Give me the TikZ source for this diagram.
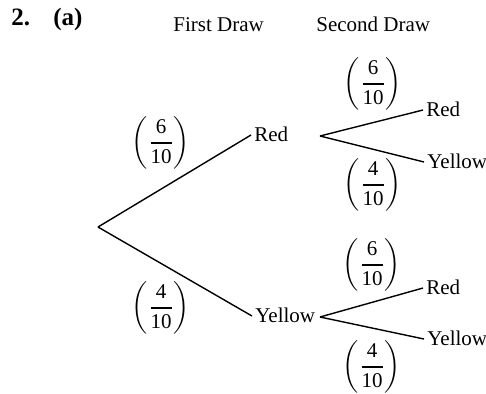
\documentclass[tikz,border=0pt]{standalone}
\usepackage{amsmath}
\usepackage{fontspec}
\setmainfont{Liberation Serif}
\newcommand{\pfrac}[2]{$\left(\genfrac{}{}{0.9pt}{0}{\text{#1}}{\text{#2}}\right)$}
\begin{document}
\begin{tikzpicture}[x=0.5pt,y=-0.5pt,
  body/.style={inner sep=0pt, font=\fontsize{10.5}{12}\selectfont},
  head/.style={inner sep=0pt, anchor=base west, font=\fontsize{12.5}{14}\selectfont\bfseries},
  title/.style={body, anchor=base west},
  leaf/.style={body, anchor=west, inner xsep=1.5pt, text height=6.95pt, text depth=0pt},
  prob/.style={body},
  branch/.style={line width=0.7pt}]
\useasboundingbox (0,0) rectangle (486,393);
% headings
\node[head] (h2) at (11,25) {2.};
\node[head] (ha) at (53,25) {(a)};
\node[title] (fd) at (173,31) {First Draw};
\node[title] (sd) at (316,31) {Second Draw};
% tree
\coordinate (root) at (98,227);
\node[leaf] (r1) at (251,135) {Red};
\node[leaf] (y1) at (252,316) {Yellow};
\coordinate (b1) at (320,136);
\coordinate (b2) at (320,317);
\node[leaf] (r2) at (423,110) {Red};
\node[leaf] (y2) at (424,162) {Yellow};
\node[leaf] (r3) at (423,288) {Red};
\node[leaf] (y3) at (424,339) {Yellow};
\draw[branch] (root) -- (r1.west);
\draw[branch] (root) -- (y1.west);
\draw[branch] (b1) -- (r2.west);
\draw[branch] (b1) -- (y2.west);
\draw[branch] (b2) -- (r3.west);
\draw[branch] (b2) -- (y3.west);
% probabilities
\node[prob] (p1) at (161,143) {\pfrac{6}{10}};
\node[prob] (p2) at (161,308) {\pfrac{4}{10}};
\node[prob] (q1) at (373,84) {\pfrac{6}{10}};
\node[prob] (q2) at (373,185) {\pfrac{4}{10}};
\node[prob] (q3) at (372,265) {\pfrac{6}{10}};
\node[prob] (q4) at (372,367) {\pfrac{4}{10}};
\end{tikzpicture}
\end{document}
